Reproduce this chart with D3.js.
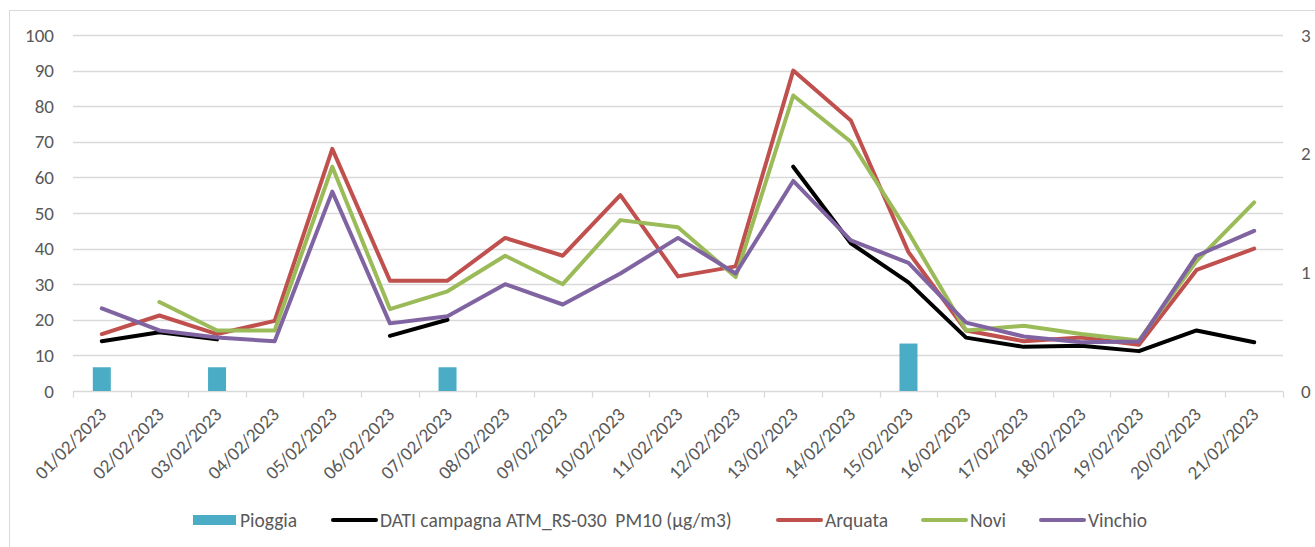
<!DOCTYPE html>
<html>
<head>
<meta charset="utf-8">
<script src="https://cdn.jsdelivr.net/npm/d3@7"></script>
<style>
  body { margin: 0; background: #fff; }
  svg { display: block; font-family: Carlito, Calibri, Lato, sans-serif; }
  text { white-space: pre; }
</style>
</head>
<body>
<svg id="chart"></svg>
<script>
// date labels, one per day
let giorni = ["01/02/2023","02/02/2023","03/02/2023","04/02/2023","05/02/2023","06/02/2023","07/02/2023",
  "08/02/2023","09/02/2023","10/02/2023","11/02/2023","12/02/2023","13/02/2023","14/02/2023",
  "15/02/2023","16/02/2023","17/02/2023","18/02/2023","19/02/2023","20/02/2023","21/02/2023"];

// rain (right axis)
let pioggia = [0.2,0,0.2,0,0,0,0.2,0,0,0,0,0,0,0,0.4,0,0,0,0,0,0];

// PM10 series (left axis), null = missing
let dati = [14,16.5,14.5,null,null,15.5,20,null,null,null,null,null,63,41.5,30.5,15,12.4,12.7,11.2,17,13.7];
let arquata = [16,21.2,16,19.7,68,31,31,43,38,55,32.2,35,90,76,39,17,14,15,13,34,40];
let novi = [null,25,17,17,63,23,28,38,30,48,46,32,83,70,44.5,17,18.3,16,14.2,36.5,53];
let vinchio = [23.2,17,15,14,56,19,21,30,24.3,33,43,33,59,42.3,36,19.2,15.3,13.7,13.9,38,45];

let tickSx = [0,10,20,30,40,50,60,70,80,90,100];
let tickDx = [0,1,2,3];

var W = 1315, H = 547;
var pL = 73, pR = 1283, pT = 35, pB = 391;

var svg = d3.select("#chart").attr("width", W).attr("height", H);

svg.append("rect")
  .attr("x", 9.5).attr("y", 10.5)
  .attr("width", 1330).attr("height", 570)
  .attr("fill", "none").attr("stroke", "#d9d9d9");

var x = d3.scaleBand().domain(giorni).range([pL, pR]);
var y = d3.scaleLinear().domain([0, 100]).range([pB, pT]);
var y2 = d3.scaleLinear().domain([0, 3]).range([pB, pT]);

// gridlines
svg.append("g")
  .selectAll("line")
  .data(tickSx.slice(1))
  .enter()
  .append("line")
  .attr("x1", pL).attr("x2", pR)
  .attr("y1", d => Math.round(y(d)) + 0.5).attr("y2", d => Math.round(y(d)) + 0.5)
  .attr("stroke", "#d9d9d9").attr("stroke-width", 1.3);

// left axis labels
svg.append("g")
  .selectAll("text")
  .data(tickSx)
  .enter()
  .append("text")
  .attr("x", 54)
  .attr("y", d => y(d))
  .attr("dy", "0.35em")
  .attr("text-anchor", "end")
  .attr("font-size", 19)
  .attr("fill", "#595959")
  .text(d => d);

// right axis labels
svg.append("g")
  .selectAll("text")
  .data(tickDx)
  .enter()
  .append("text")
  .attr("x", 1301)
  .attr("y", d => y2(d))
  .attr("dy", "0.35em")
  .attr("text-anchor", "start")
  .attr("font-size", 19)
  .attr("fill", "#595959")
  .text(d => d);

// x axis line with ticks at band edges
var asseX = svg.append("g").attr("transform", "translate(0," + (pB + 0.5) + ")");
asseX.append("line")
  .attr("x1", pL).attr("x2", pR)
  .attr("stroke", "#d9d9d9").attr("stroke-width", 1.3);
var bordi = giorni.map(d => x(d)).concat([pR]);
asseX.selectAll("line.tk")
  .data(bordi)
  .enter()
  .append("line")
  .attr("class", "tk")
  .attr("x1", d => Math.round(d) + 0.5).attr("x2", d => Math.round(d) + 0.5)
  .attr("y1", 0).attr("y2", 6)
  .attr("stroke", "#d9d9d9").attr("stroke-width", 1.3);

// x labels rotated
svg.append("g")
  .selectAll("text")
  .data(giorni)
  .enter()
  .append("text")
  .attr("transform", d => "translate(" + (x(d) + x.bandwidth() / 2 + 1) + "," + (pB + 20) + ") rotate(-45)")
  .attr("text-anchor", "end")
  .attr("dy", "0.35em")
  .attr("font-size", 19)
  .attr("fill", "#595959")
  .text(d => d);

// rain bars
var barW = 18;
svg.append("g")
  .selectAll("rect")
  .data(pioggia)
  .enter()
  .append("rect")
  .attr("x", (d, i) => x(giorni[i]) + x.bandwidth() / 2 - barW / 2)
  .attr("y", d => y2(d))
  .attr("width", barW)
  .attr("height", d => pB - y2(d))
  .attr("fill", "#4bacc6");

var linea = d3.line()
  .defined(d => d != null)
  .x((d, i) => x(giorni[i]) + x.bandwidth() / 2)
  .y(d => y(d));

var serie = [
  { nome: "DATI campagna ATM_RS-030  PM10 (µg/m3)", valori: dati, colore: "#000000" },
  { nome: "Arquata", valori: arquata, colore: "#c0504d" },
  { nome: "Novi", valori: novi, colore: "#9bbb59" },
  { nome: "Vinchio", valori: vinchio, colore: "#8064a2" }
];

serie.forEach(function (s) {
  svg.append("path")
    .attr("d", linea(s.valori))
    .attr("fill", "none")
    .attr("stroke", s.colore)
    .attr("stroke-width", 4)
    .attr("stroke-linejoin", "round")
    .attr("stroke-linecap", "round");
});

// legend
var ly = 520;
var leg = svg.append("g");
leg.append("rect").attr("x", 193).attr("y", ly - 5).attr("width", 43).attr("height", 10).attr("fill", "#4bacc6");
leg.append("text").attr("x", 240).attr("y", ly).attr("dy", "0.35em")
  .attr("font-size", 19.5).attr("fill", "#595959").text("Pioggia");

var legPos = [331, 776, 921, 1039];
serie.forEach(function (s, i) {
  leg.append("line")
    .attr("x1", legPos[i] + 2).attr("x2", legPos[i] + 45)
    .attr("y1", ly).attr("y2", ly)
    .attr("stroke", s.colore).attr("stroke-width", 4).attr("stroke-linecap", "round");
  leg.append("text")
    .attr("x", legPos[i] + 49).attr("y", ly).attr("dy", "0.35em")
    .attr("font-size", 19.5).attr("fill", "#595959")
    .text(s.nome);
});
</script>
</body>
</html>
